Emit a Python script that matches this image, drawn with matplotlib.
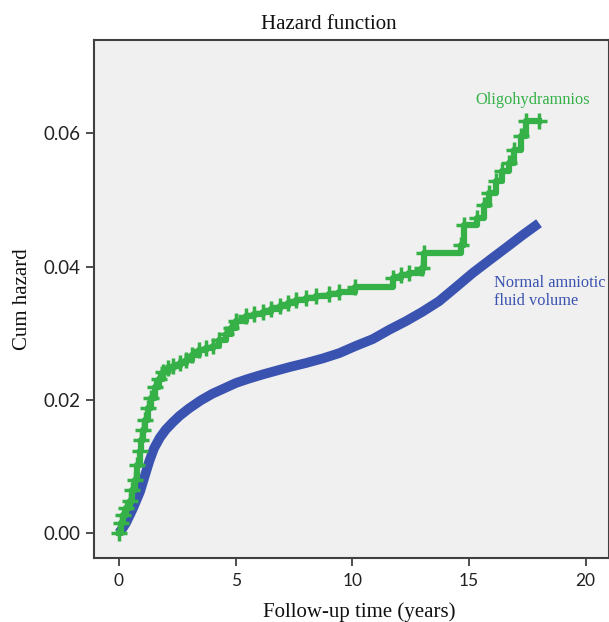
import matplotlib
matplotlib.use("Agg")
import matplotlib.pyplot as plt

# ---- data ----
normal_t = [0.0, 0.17, 0.3, 0.6, 0.9, 1.1, 1.3, 1.5, 1.75, 2.0, 2.3, 2.6, 3.0, 3.5,
            4.0, 4.5, 5.0, 5.5, 6.16, 7.3, 8.0, 8.73, 9.44, 10.16, 10.87, 11.58, 12.3,
            13.0, 13.72, 14.44, 15.15, 15.86, 16.58, 17.29, 18.0]
normal_h = [0.0, 0.0008, 0.0015, 0.0037, 0.0062, 0.0085, 0.0108, 0.0127, 0.0143, 0.0155,
            0.0166, 0.0176, 0.0187, 0.0199, 0.0209, 0.0217, 0.0225, 0.0231, 0.0238, 0.0249,
            0.0255, 0.0262, 0.027, 0.0281, 0.0291, 0.0305, 0.0318, 0.0332, 0.0348, 0.0369,
            0.039, 0.0409, 0.0428, 0.0447, 0.0465]

oligo_t = [0.0, 0.08, 0.17, 0.3, 0.46, 0.56, 0.67, 0.78, 0.88, 0.96, 1.03, 1.12, 1.24,
           1.38, 1.53, 1.7, 1.88, 2.1, 2.31, 2.6, 2.88, 3.15, 3.45, 3.75, 4.02, 4.3, 4.59,
           4.8, 5.02, 5.45, 5.8, 6.16, 6.5, 6.88, 7.25, 7.59, 8.0, 8.45, 9.0, 9.44, 10.1,
           11.73, 12.1, 12.44, 13.0, 13.08, 14.65, 14.8, 15.36, 15.65, 15.86, 16.15,
           16.43, 16.72, 16.93, 17.22, 17.43, 18.0]
oligo_h = [0.0, 0.0015, 0.0027, 0.0037, 0.0048, 0.0064, 0.008, 0.0102, 0.0123, 0.014,
           0.0155, 0.017, 0.0187, 0.0203, 0.0219, 0.0231, 0.0241, 0.0247, 0.0251, 0.0255,
           0.0259, 0.0267, 0.0275, 0.0278, 0.0281, 0.029, 0.0299, 0.0308, 0.0318, 0.0326,
           0.0329, 0.0332, 0.0336, 0.034, 0.0345, 0.035, 0.0353, 0.0356, 0.0358, 0.0361,
           0.0369, 0.0383, 0.0387, 0.039, 0.0398, 0.042, 0.0433, 0.0463, 0.0473, 0.0492,
           0.0511, 0.0529, 0.0543, 0.0556, 0.0575, 0.0596, 0.0618, 0.0618]

x_ticks = [0, 5, 10, 15, 20]
y_ticks = [0.00, 0.02, 0.04, 0.06]
y_tick_labels = ["0.00", "0.02", "0.04", "0.06"]

green = "#35b148"
blue = "#3b53b0"
edge = "#404040"

fig = plt.figure(figsize=(6.09, 6.22), dpi=100)
ax = fig.add_axes([0.1544, 0.1029, 0.8456, 0.8328])
ax.set_facecolor("#f0f0f0")

ax.plot(normal_t, normal_h, color=blue, lw=7, solid_capstyle="butt",
        solid_joinstyle="round", zorder=2)
ax.step(oligo_t, oligo_h, where="post", color=green, lw=4.5, zorder=3)
ax.plot(oligo_t, oligo_h, ls="none", marker="+", ms=11, mew=2.5, color=green, zorder=3)

ax.set_xlim(-1.07, 21.0)
ax.set_ylim(-0.00375, 0.0740)
ax.set_xticks(x_ticks)
ax.set_yticks(y_ticks)
ax.set_yticklabels(y_tick_labels)

for s in ax.spines.values():
    s.set_color(edge)
    s.set_linewidth(1.5)

ax.tick_params(axis="both", direction="out", length=6, width=1.3, color=edge,
               labelcolor="#222222")
ax.tick_params(axis="x", labelsize=12.5, pad=5)
ax.tick_params(axis="y", labelsize=13.5, pad=4)
for lab in ax.get_xticklabels() + ax.get_yticklabels():
    lab.set_family("Lato")

serif = "Liberation Serif"
ax.set_title("Hazard function", family=serif, fontsize=15, pad=8, color="#111111",
             x=0.456)
ax.set_xlabel("Follow-up time (years)", family=serif, fontsize=15, labelpad=9,
              color="#111111", x=0.515)
ax.set_ylabel("Cum hazard", family=serif, fontsize=15, labelpad=8, color="#111111")

ax.text(15.26, 0.065, "Oligohydramnios", color=green, family=serif, fontsize=11.8,
        va="center", ha="left")
ax.text(16.07, 0.0362, "Normal amniotic\nfluid volume", color=blue, family=serif,
        fontsize=11.8, va="center", ha="left", linespacing=1.15)

fig.savefig("out.png", dpi=100, facecolor="white")
